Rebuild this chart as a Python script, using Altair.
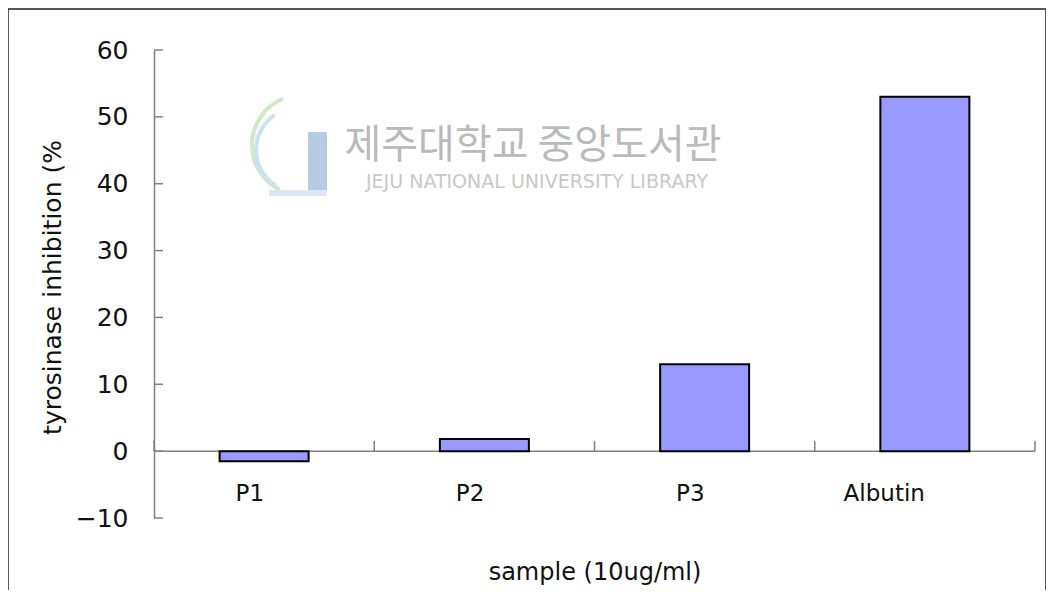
import altair as alt
import pandas as pd

categories = ["P1", "P2", "P3", "Albutin"]
values = [-1.5, 1.8, 13.0, 53.0]
y_ticks = [-10, 0, 10, 20, 30, 40, 50, 60]

FONT = "DejaVu Sans"
KFONT = "Noto Sans CJK KR"
W, H = 881, 468
AX = "#808080"

bars_df = pd.DataFrame({"sample": categories, "value": values})
ticks_df = pd.DataFrame({"t": y_ticks})
one_df = pd.DataFrame({"a": [0]})

xscale = alt.Scale(domain=categories, paddingInner=0, paddingOuter=0)
yscale = alt.Scale(domain=[-10, 60], nice=False, zero=False)

base = alt.Chart(bars_df)

bars = base.mark_bar(size=89, color="#9999FF", stroke="black", strokeWidth=2).encode(
    x=alt.X("sample:N", scale=xscale, sort=categories,
            axis=alt.Axis(orient="bottom", offset=-67, domain=False, ticks=False,
                          labelAngle=0, labelFont=FONT, labelFontSize=23,
                          labelColor="#111111", labelPadding=42, labelBaseline="middle",
                          title="sample (10ug/ml)", titleFont=FONT, titleFontSize=24,
                          titleFontWeight="normal", titleColor="#111111",
                          titleX=W / 2, titleY=121, titleBaseline="middle", titleAlign="center")),
    y=alt.Y("value:Q", scale=yscale,
            axis=alt.Axis(values=y_ticks, domainColor=AX, domainWidth=1.5, ticks=False,
                          grid=False, labelFont=FONT, labelFontSize=25, labelColor="#111111",
                          labelPadding=26, title="tyrosinase inhibition (%",
                          titleFont=FONT, titleFontSize=25, titleFontWeight="normal",
                          titleColor="#111111", titleX=-102, titleY=237, titleAngle=270,
                          titleBaseline="middle", titleAlign="center")),
)

zero_line = alt.Chart(one_df).mark_rule(color=AX, strokeWidth=1.5).encode(
    y=alt.datum(0, scale=yscale), x=alt.value(0), x2=alt.value(W)
)

yticks = alt.Chart(ticks_df).mark_rule(color=AX, strokeWidth=1.5).encode(
    y=alt.Y("t:Q", scale=yscale), x=alt.value(0), x2=alt.value(9)
)

xticks_left = base.mark_rule(color=AX, strokeWidth=1.5).encode(
    x=alt.X("sample:N", scale=xscale, sort=categories, bandPosition=0),
    y=alt.datum(0, scale=yscale), y2=alt.datum(1.5),
)
xticks_right = alt.Chart(bars_df[bars_df["sample"] == "Albutin"]).mark_rule(
    color=AX, strokeWidth=1.5).encode(
    x=alt.X("sample:N", scale=xscale, sort=categories, bandPosition=1),
    y=alt.datum(0, scale=yscale), y2=alt.datum(1.5),
)

# watermark
wm1 = alt.Chart(one_df).mark_text(
    text="제주대학교 중앙도서관", font=KFONT, fontSize=40, color="#bababa",
    align="center", baseline="middle").encode(x=alt.value(379), y=alt.value(96))
wm2 = alt.Chart(one_df).mark_text(
    text="JEJU NATIONAL UNIVERSITY  LIBRARY", font=FONT, fontSize=19, color="#c8c8c8",
    align="center", baseline="middle").encode(x=alt.value(383), y=alt.value(132))
logo = alt.Chart(one_df).mark_rect(color="#b9cbe4").encode(
    x=alt.value(154), x2=alt.value(173), y=alt.value(82), y2=alt.value(140))
logo2 = alt.Chart(one_df).mark_rect(color="#dde6f2").encode(
    x=alt.value(115), x2=alt.value(173), y=alt.value(140), y2=alt.value(146))
arc1 = alt.Chart(one_df).mark_arc(color="#d3e8c8", radius=52, radius2=48,
                                   theta=3.6, theta2=5.9).encode(
    x=alt.value(148), y=alt.value(95))
arc2 = alt.Chart(one_df).mark_arc(color="#c7e3ef", radius=44, radius2=40,
                                   theta=3.7, theta2=5.7).encode(
    x=alt.value(144), y=alt.value(100))

frame = alt.Chart(one_df).mark_rect(fill=None, stroke="#222222", strokeWidth=1.5).encode(
    x=alt.value(-146), x2=alt.value(892), y=alt.value(-41), y2=alt.value(640)
)

chart = alt.layer(frame, wm1, wm2, arc1, arc2, logo2, logo, zero_line, yticks,
                  xticks_left, xticks_right, bars).properties(
    width=W, height=H,
    padding={"left": 146, "top": 42, "right": 11, "bottom": 72},
    autosize=alt.AutoSizeParams(type="none"),
    background="white",
).configure_view(stroke=None)

chart.save("out.html", embed_options={"renderer": "svg", "actions": False})
